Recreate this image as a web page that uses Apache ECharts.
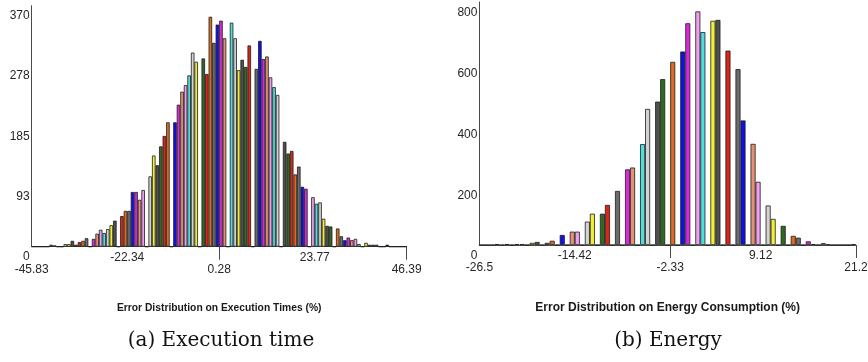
<!DOCTYPE html>
<html>
<head>
<meta charset="utf-8">
<script src="https://cdn.jsdelivr.net/npm/echarts@6/dist/echarts.min.js"></script>
<style>
  html, body { margin: 0; background: #fff; }
  #chart { width: 868px; height: 362px; }
</style>
</head>
<body>
<div id="chart"></div>
<script>
// bin counts (one entry per bin, 0 = empty bin)
const execCounts = [
  0, 0, 0, 0, 0, 3, 2, 0, 0, 4, 4, 9, 3, 7, 9, 13, 0, 12, 20, 26,
  21, 27, 33, 40, 0, 47, 55, 55, 84, 84, 72, 87, 0, 108, 140, 125, 154, 170, 191, 0,
  191, 218, 238, 248, 263, 298, 284, 0, 289, 265, 353, 313, 341, 347, 320, 0, 344, 320, 271, 287,
  276, 309, 0, 273, 316, 288, 292, 260, 245, 233, 0, 161, 143, 147, 111, 123, 92, 89, 0, 76,
  66, 68, 43, 32, 31, 0, 28, 16, 10, 14, 10, 12, 4, 0, 6, 3, 3, 3, 0, 0,
  3, 0, 0, 0, 0, 0
];
const energyCounts = [
  0, 0, 0, 3, 0, 3, 0, 3, 3, 0, 7, 10, 0, 7, 14, 0, 33, 0, 44, 44,
  0, 77, 103, 0, 103, 132, 0, 178, 0, 249, 255, 0, 332, 448, 0, 472, 546, 0, 603, 0,
  637, 730, 0, 769, 701, 0, 738, 741, 0, 640, 0, 579, 410, 0, 333, 208, 0, 130, 86, 0,
  63, 0, 30, 24, 0, 12, 3, 0, 6, 2, 0, 0, 0, 0, 3
];

const execRange = [-45.83, 46.39];
const execLabelsUpper = [-22.34, 23.77];
const execLabelsLower = [-45.83, 0.28, 46.39];
const execTickMarks = [0.28, 46.39];
const execYTicks = [0, 92.5, 185, 277.5, 370];
const execYLabels = ["0", "93", "185", "278", "370"];

const energyRange = [-26.5, 21.2];
const energyLabelsUpper = [-14.42, 9.12];
const energyLabelsLower = [-26.5, -2.33, 21.2];
const energyTickMarks = [-2.33, 21.2];
const energyYTicks = [0, 200, 400, 600, 800];
const energyYLabels = ["0", "200", "400", "600", "800"];

// colours cycle bin by bin
const palette = [
  "#1010e8", "#dc28dc", "#e39274", "#ef9fef", "#4fdede", "#d2d2d2",
  "#f2ef35", "#505050", "#2f6a1f", "#dc2418", "#df6a1e", "#6c6c6c"
];
const COLOR_OFFSET = 8;

const FONT = "'Liberation Sans', Arial, Helvetica, sans-serif";
const TEXT = "#262626";
const AXIS = "#4a4a4a";

const chart = echarts.init(document.getElementById("chart"), null, { renderer: "canvas" });

const grids = [
  { left: 31.7, right: 461.3, top: 5.7, bottom: 115.3, outerBoundsMode: "none" },
  { left: 479.4, right: 12, top: 2, bottom: 117, outerBoundsMode: "none" },
];

const panels = [
  {
    counts: execCounts, range: execRange, upper: execLabelsUpper, lower: execLabelsLower,
    marks: execTickMarks, yTicks: execYTicks, yLabels: execYLabels, yShift: 10,
    name: "Error Distribution on Execution Times (%)", nameSize: 10.3, nameGap: 56,
  },
  {
    counts: energyCounts, range: energyRange, upper: energyLabelsUpper, lower: energyLabelsLower,
    marks: energyTickMarks, yTicks: energyYTicks, yLabels: energyYLabels, yShift: 11,
    name: "Error Distribution on Energy Consumption (%)", nameSize: 12, nameGap: 57,
  },
];

const xAxis = [];
const yAxis = [];
const series = [];

panels.forEach((p, g) => {
  const catIndex = xAxis.length;
  // hidden category axis that places one bar per bin
  xAxis.push({
    type: "category",
    gridIndex: g,
    position: "bottom",
    data: p.counts.map((_, i) => i),
    boundaryGap: true,
    show: false,
  });
  // value axis: baseline + upper row of labels + title
  xAxis.push({
    type: "value",
    gridIndex: g,
    position: "bottom",
    min: p.range[0],
    max: p.range[1],
    axisLine: { show: true, onZero: false, lineStyle: { color: AXIS, width: 1 } },
    axisTick: { show: false },
    splitLine: { show: false },
    axisLabel: {
      customValues: p.upper,
      formatter: (v) => String(v),
      margin: 5,
      color: TEXT,
      fontFamily: FONT,
      fontSize: 12,
    },
    name: p.name,
    nameLocation: "middle",
    nameGap: p.nameGap,
    nameTextStyle: { color: "#1a1a1a", fontFamily: FONT, fontSize: p.nameSize, fontWeight: "bold" },
  });
  // value axis: lower row of labels + the two long ticks
  xAxis.push({
    type: "value",
    gridIndex: g,
    position: "bottom",
    min: p.range[0],
    max: p.range[1],
    axisLine: { show: false, onZero: false },
    axisTick: { show: true, customValues: p.marks, length: 13, lineStyle: { color: AXIS } },
    splitLine: { show: false },
    axisLabel: {
      customValues: p.lower,
      formatter: (v) => String(v),
      margin: 17,
      color: TEXT,
      fontFamily: FONT,
      fontSize: 12,
    },
  });

  yAxis.push({
    type: "value",
    gridIndex: g,
    min: 0,
    max: p.yTicks[p.yTicks.length - 1],
    // keep the line at the grid's left edge, not at x = 0
    axisLine: { show: true, onZero: false, lineStyle: { color: AXIS, width: 1 } },
    axisTick: { show: false },
    splitLine: { show: false },
    axisLabel: {
      customValues: p.yTicks,
      // labels sit a little below their tick: empty first line pushes them down
      formatter: (v) => "\n" + p.yLabels[p.yTicks.indexOf(v)],
      lineHeight: p.yShift * 2,
      margin: 2,
      color: TEXT,
      fontFamily: FONT,
      fontSize: 12,
    },
  });

  series.push({
    type: "bar",
    xAxisIndex: catIndex,
    yAxisIndex: g,
    data: p.counts,
    barCategoryGap: "0%",
    silent: true,
    itemStyle: {
      color: (d) => palette[(d.dataIndex + COLOR_OFFSET) % palette.length],
      borderColor: "#1c1c1c",
      borderWidth: 0.8,
    },
  });
});

chart.setOption({
  animation: false,
  backgroundColor: "#ffffff",
  grid: grids,
  xAxis,
  yAxis,
  series,
  graphic: [
    {
      type: "text", x: 221, y: 341,
      style: { text: "(a) Execution time", align: "center", verticalAlign: "middle",
               font: "20px 'DejaVu Serif', 'Liberation Serif', serif", fill: "#111" },
    },
    {
      type: "text", x: 668, y: 341,
      style: { text: "(b) Energy", align: "center", verticalAlign: "middle",
               font: "20px 'DejaVu Serif', 'Liberation Serif', serif", fill: "#111" },
    },
  ],
});
</script>
</body>
</html>
